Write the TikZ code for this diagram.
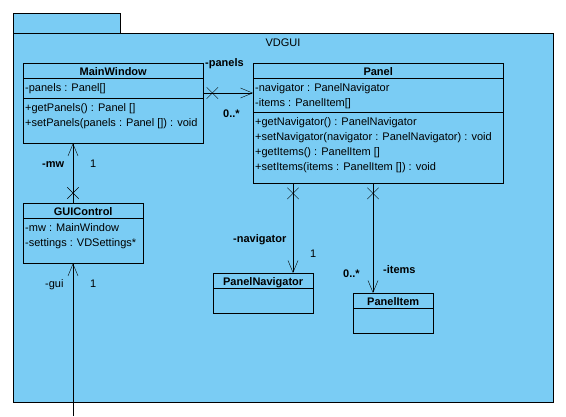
\documentclass[tikz,border=0pt]{standalone}
\usepackage{fontspec}
\setmainfont{Liberation Sans}[Scale=1.1]
\usetikzlibrary{positioning}
\usetikzlibrary{calc}
\usetikzlibrary{shapes.misc}
\usetikzlibrary{arrows.meta}
\definecolor{vpblue}{RGB}{122,204,244}
\tikzset{
x=1pt,y=-1pt, % pixel units, y downwards
line width=0.8pt,
>={Straight Barb[length=12pt,width=10pt]}, % open navigable end
my package/.style={draw,fill=vpblue,rectangle,inner sep=0pt},
my class/.style={draw,rectangle,inner sep=0pt,anchor=north west},
my title/.style={font=\bfseries,anchor=base,inner sep=0pt},
my member/.style={anchor=base west,inner sep=0pt},
my role/.style={anchor=base west,inner sep=0pt,font=\bfseries},
my mult/.style={anchor=base west,inner sep=0pt},
owned/.style={draw,cross out,minimum size=11pt,inner sep=0pt},
}
\begin{document}
\begin{tikzpicture}
\useasboundingbox (0,0) rectangle (566,416);
% package VDGUI
\node[my package,minimum width=107pt,minimum height=20pt,anchor=north west] (tab) at (13,13) {};
\node[my package,minimum width=540pt,minimum height=369pt,anchor=north west] (vd) at (13,33) {};
\node[anchor=base] (vdname) at (283,46) {VDGUI};
% classes
\node[my class,minimum width=180pt,minimum height=80pt] (mw) at (23,63) {};
\node[my class,minimum width=250pt,minimum height=120pt] (panel) at (253,63) {};
\node[my class,minimum width=120pt,minimum height=60pt] (gui) at (23,203) {};
\node[my class,minimum width=100pt,minimum height=40pt] (nav) at (213,273) {};
\node[my class,minimum width=80pt,minimum height=40pt] (item) at (353,293) {};
\foreach \c/\d in {mw/15,mw/35,panel/15,panel/49,gui/15,nav/15,item/15}
  \draw ($(\c.north west)+(0,\d)$) -- ($(\c.north east)+(0,\d)$);
\foreach \c/\t in {mw/MainWindow,panel/Panel,gui/GUIControl,nav/PanelNavigator,item/PanelItem}
  \node[my title] (\c-t) at ($(\c.north)+(0,12)$) {\t};
% members
\node[my member] (mw-a) at ($(mw.north west)+(2,28)$) {-panels : Panel[]};
\node[my member] (mw-o1) at ($(mw.north west)+(2,48)$) {+getPanels() : Panel []};
\node[my member] (mw-o2) at ($(mw.north west)+(2,63)$) {+setPanels(panels : Panel []) : void};
\node[my member] (panel-a1) at ($(panel.north west)+(2,28)$) {-navigator : PanelNavigator};
\node[my member] (panel-a2) at ($(panel.north west)+(2,43)$) {-items : PanelItem[]};
\node[my member] (panel-o1) at ($(panel.north west)+(2,62)$) {+getNavigator() : PanelNavigator};
\node[my member] (panel-o2) at ($(panel.north west)+(2,77)$) {+setNavigator(navigator : PanelNavigator) : void};
\node[my member] (panel-o3) at ($(panel.north west)+(2,92)$) {+getItems() : PanelItem []};
\node[my member] (panel-o4) at ($(panel.north west)+(2,107)$) {+setItems(items : PanelItem []) : void};
\node[my member] (gui-a1) at ($(gui.north west)+(2,28)$) {-mw : MainWindow};
\node[my member] (gui-a2) at ($(gui.north west)+(2,43)$) {-settings : VDSettings*};
% associations
\coordinate (guitop) at ($(gui.north west)+(50,0)$);
\coordinate (guiend) at (guitop |- 0,416);
\coordinate (mwright) at ($(mw.north east)+(0,30)$);
\coordinate (navtop) at ($(nav.north west)+(80,0)$);
\coordinate (itemtop) at ($(item.north west)+(20,0)$);
\draw[->] (guitop) -- (guitop |- mw.south);
\draw[->] (mwright) -- (mwright -| panel.west);
\draw[->] (navtop |- panel.south) -- (navtop);
\draw[->] (itemtop |- panel.south) -- (itemtop);
\draw[->] (guiend) -- (guiend |- gui.south);
\node[owned] (x-gui) at ($(guitop)+(0,-10)$) {};
\node[owned] (x-mw) at ($(mwright)+(9,0)$) {};
\node[owned] (x-nav) at ($(navtop |- panel.south)+(0,10)$) {};
\node[owned] (x-item) at ($(itemtop |- panel.south)+(0,10)$) {};
% roles and multiplicities
\node[my role] (r-panels) at (205,66) {-panels};
\node[my role] (m-panels) at (223,117) {0..*};
\node[my role] (r-mw) at (42,167) {-mw};
\node[my mult] (m-mw) at (90,167) {1};
\node[my mult] (r-gui) at (45,287) {-gui};
\node[my mult] (m-gui) at (90,287) {1};
\node[my role] (r-nav) at (233,242) {-navigator};
\node[my mult] (m-nav) at (310,257) {1};
\node[my role] (m-item) at (343,277) {0..*};
\node[my role] (r-item) at (383,273) {-items};
\end{tikzpicture}
\end{document}
